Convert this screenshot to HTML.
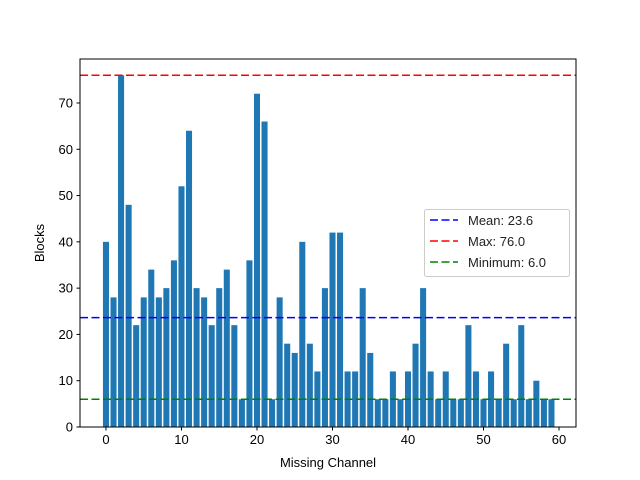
<!DOCTYPE html>
<html><head><meta charset="utf-8"><style>body{margin:0;background:#fff}svg{display:block;font-family:"Liberation Sans","DejaVu Sans",sans-serif}</style></head>
<body>
<svg id="c" width="640" height="480"></svg>
<script>
const channels = Array.from({length:60},(_, i)=>i);
const blocks = [40,28,76,48,22,28,34,28,30,36,52,64,30,28,22,30,34,22,6,36,72,66,6,28,18,16,40,18,12,30,42,42,12,12,30,16,6,6,12,6,12,18,30,12,6,12,6,6,22,12,6,12,6,18,6,22,6,10,6,6];
const xTicks = [0,10,20,30,40,50,60];
const yTicks = [0,10,20,30,40,50,60,70];
const L=80,R=576,T=59,B=427;
const xmin=-3.44,xmax=62.25,ymin=0,ymax=79.5;
const sx=v=>L+(v-xmin)/(xmax-xmin)*(R-L);
const sy=v=>B-(v-ymin)/(ymax-ymin)*(B-T);
const svg=document.getElementById('c');const NS='http://www.w3.org/2000/svg';
function mk(t,a,p){const e=document.createElementNS(NS,t);for(const k in a)e.setAttribute(k,a[k]);(p||svg).appendChild(e);return e;}
channels.forEach((c,i)=>{
 const r=mk('rect',{x:sx(c-0.4),y:sy(blocks[i]),width:sx(c+0.4)-sx(c-0.4),height:sy(0)-sy(blocks[i]),fill:'#1f77b4'});
 
 
});
const mean=blocks.reduce((a,b)=>a+b,0)/blocks.length,mx=Math.max(...blocks),mn=Math.min(...blocks);
[[mean,'blue','mean-line'],[mx,'red','max-line'],[mn,'green','min-line']].forEach(([v,c,n])=>{
 const l=mk('line',{x1:L,x2:R,y1:sy(v),y2:sy(v),stroke:c,'stroke-width':1.5,'stroke-dasharray':'8,3.5'});
 
 
});
mk('rect',{x:L,y:T,width:R-L,height:B-T,fill:'none',stroke:'#000','stroke-width':1});
xTicks.forEach(t=>{
 mk('line',{x1:sx(t),x2:sx(t),y1:B,y2:B+3.5,stroke:'#000'});
 const tx=mk('text',{x:sx(t),y:B+17,'text-anchor':'middle','font-size':13});tx.textContent=t;
 
 
});
yTicks.forEach(t=>{
 mk('line',{x1:L-3.5,x2:L,y1:sy(t),y2:sy(t),stroke:'#000'});
 const tx=mk('text',{x:L-7,y:sy(t)+4.5,'text-anchor':'end','font-size':13});tx.textContent=t;
 
 
});
const xt=mk('text',{x:(L+R)/2,y:467,'text-anchor':'middle','font-size':13});xt.textContent='Missing Channel';


const yt=mk('text',{x:44,y:(T+B)/2,'text-anchor':'middle','font-size':13,transform:`rotate(-90 44 ${(T+B)/2})`});yt.textContent='Blocks';


const g=mk('g',{});


mk('rect',{x:424.5,y:209.5,width:145,height:67,rx:2,fill:'#fff','fill-opacity':0.8,stroke:'#ccc'},g);
[['Mean: '+mean.toFixed(1),'blue'],['Max: '+mx.toFixed(1),'red'],['Minimum: '+mn.toFixed(1),'green']].forEach(([s,c],i)=>{
 const y=220+i*21;
 mk('line',{x1:430,x2:458,y1:y,y2:y,stroke:c,'stroke-width':1.5,'stroke-dasharray':'8,3.5'},g);
 const t=mk('text',{x:468,y:y+5,'font-size':13,fill:'#222'},g);t.textContent=s;
 
 
});
</script>
</body></html>
